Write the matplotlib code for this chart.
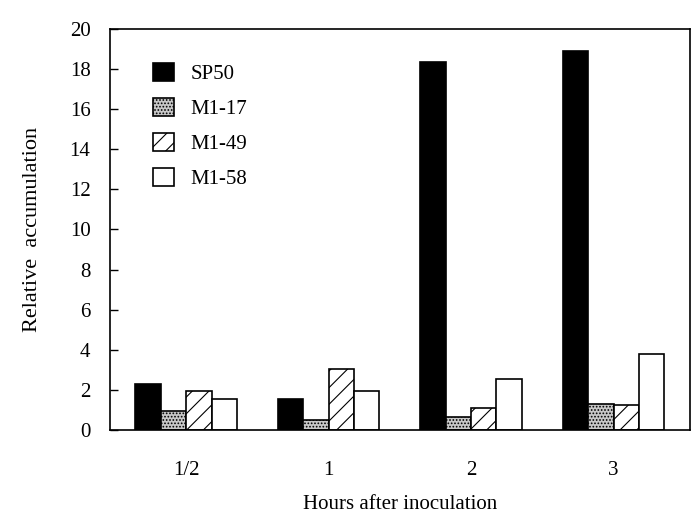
import numpy as np
import matplotlib.pyplot as plt

plt.rcParams['font.family'] = ['Liberation Serif', 'DejaVu Serif']

# Data
hours = ['1/2', '1', '2', '3']
sp50 = [2.3, 1.55, 18.35, 18.9]
m1_17 = [0.95, 0.5, 0.65, 1.3]
m1_49 = [1.95, 3.05, 1.1, 1.25]
m1_58 = [1.55, 1.95, 2.55, 3.8]

series = [('SP50', sp50, 'black', ''),
          ('M1-17', m1_17, '#c8c8c8', '.....'),
          ('M1-49', m1_49, 'white', '//'),
          ('M1-58', m1_58, 'white', '')]

fig = plt.figure(figsize=(6.96, 5.15), dpi=100)
ax = fig.add_axes([0.158, 0.165, 0.833, 0.779])

x = np.arange(len(hours))
width = 0.178
offsets = (np.arange(4) - 1.5) * width

plt.rcParams['hatch.linewidth'] = 0.8
for (name, vals, color, hatch), off in zip(series, offsets):
    ax.bar(x + off, vals, width, color=color, edgecolor='black',
           hatch=hatch, linewidth=1.2, label=name)

ax.set_xlim(-0.535, 3.535)
ax.set_ylim(0, 20)
ax.set_yticks(np.arange(0, 21, 2))
ax.set_xticks(x)
ax.set_xticklabels(hours)
ax.tick_params(axis='y', direction='in', length=6, width=1, labelsize=15, pad=14)
ax.tick_params(axis='x', length=0, labelsize=15, pad=22)
for sp in ax.spines.values():
    sp.set_linewidth(1.2)

ax.set_ylabel('Relative  accumulation', fontsize=16, labelpad=20)
ax.set_xlabel('Hours after inoculation', fontsize=15, labelpad=11)

ax.legend(loc='upper left', bbox_to_anchor=(0.042, 0.962), frameon=False,
          fontsize=15, handlelength=1.0, handleheight=1.0,
          labelspacing=0.65, handletextpad=0.8)

plt.savefig('out.png', dpi=100)
